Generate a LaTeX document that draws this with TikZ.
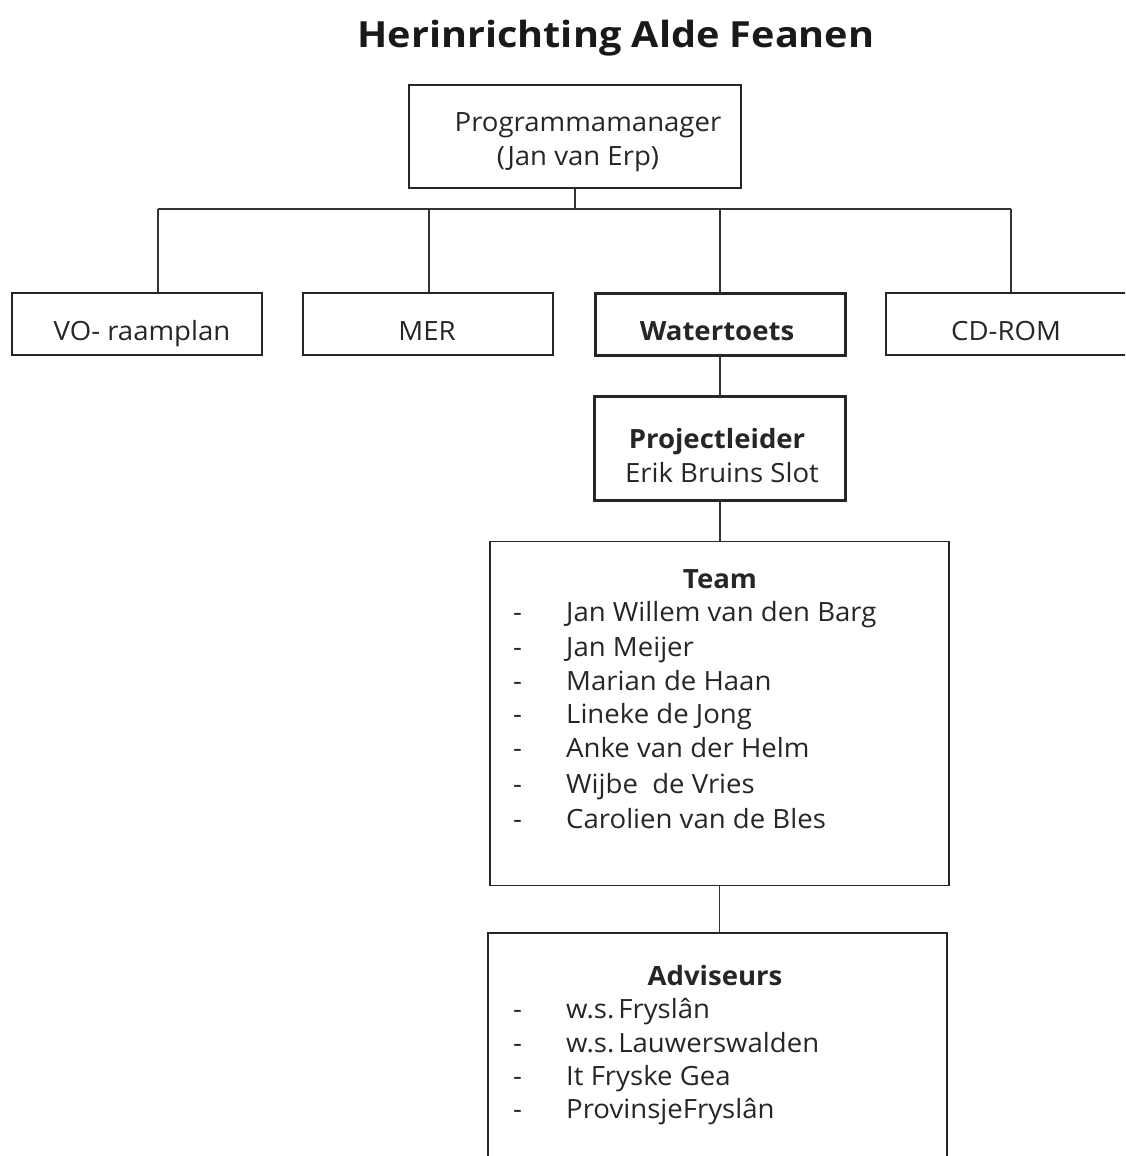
\documentclass[tikz,border=0pt]{standalone}
\usepackage{fontspec}
\setmainfont{Open Sans}[FakeStretch=1.04]
\newfontfamily\titlefont{Open Sans}[FakeStretch=1.1]
\begin{document}
\begin{tikzpicture}[x=1pt,y=-1pt,
  box/.style={draw=black!85, line width=1.6pt, inner sep=0pt},
  thickbox/.style={box, line width=3pt},
  conn/.style={draw=black!80, line width=1.5pt},
  txt/.style={inner sep=0pt, anchor=base, text=black!85, font=\fontsize{26.5}{32}\selectfont},
  btxt/.style={txt, font=\fontsize{26.5}{32}\selectfont\bfseries},
  itm/.style={txt, anchor=base west},
  ttl/.style={inner sep=0pt, anchor=base, text=black!90, font=\titlefont\fontsize{36}{42}\selectfont\bfseries}]
\useasboundingbox (0,0) rectangle (1125,1156);
\clip (0,0) rectangle (1125,1156);

\node[ttl] (title) at (616,48) {Herinrichting Alde Feanen};

% boxes
\node[box, minimum width=332pt, minimum height=103pt] (pm) at (575,136.5) {};
\node[box, minimum width=250pt, minimum height=62pt] (vo) at (137,324) {};
\node[box, minimum width=250pt, minimum height=62pt] (mer) at (428,324) {};
\node[thickbox, minimum width=250pt, minimum height=62pt] (wt) at (720,324) {};
\node[box, minimum width=250pt, minimum height=62pt] (cd) at (1011,324) {};
\node[thickbox, minimum width=251pt, minimum height=104pt] (pl) at (720,448) {};
\node[box, minimum width=459pt, minimum height=344pt] (team) at (719.5,713.5) {};
\node[box, minimum width=459pt, minimum height=300pt] (adv) at (717.5,1083) {};

% box texts
\node[txt] (pmt1) at (588,131) {Programmamanager};
\node[txt] (pmt2) at (578,165) {(Jan van Erp)};
\node[txt] (vot) at (142,340) {VO- raamplan};
\node[txt] (mert) at (427,340) {MER};
\node[btxt] (wtt) at (717,340) {Watertoets};
\node[txt] (cdt) at (1006,340) {CD-ROM};
\node[btxt] (plt1) at (717,448) {Projectleider};
\node[txt] (plt2) at (722,482) {Erik Bruins Slot};

\node[btxt] (teamt) at (720,588) {Team};
\foreach \n/\yy/\name in {1/621/Jan Willem van den Barg, 2/656/Jan Meijer, 3/690/Marian de Haan, 4/723/Lineke de Jong, 5/757/Anke van der Helm, 6/793/Wijbe\ \ de Vries, 7/828/Carolien van de Bles}{
  \node[itm] (td\n) at (513,\yy) {-};
  \node[itm] (tn\n) at (566,\yy) {\name};
}

\node[btxt] (advt) at (715,985) {Adviseurs};
\foreach \n/\yy/\name in {1/1018/w.s.\hspace{0.15em}Fryslân, 2/1052/w.s.\hspace{0.15em}Lauwerswalden, 3/1085/It Fryske Gea, 4/1118/ProvinsjeFryslân}{
  \node[itm] (ad\n) at (513,\yy) {-};
  \node[itm] (an\n) at (566,\yy) {\name};
}

% connectors
\coordinate (bus) at (0,209);
\coordinate (voup) at ([xshift=21pt]vo.north);
\draw[conn] (pm.south) -- (pm.south |- bus);
\draw[conn] (voup |- bus) -- (cd.north |- bus);
\draw[conn] (voup) -- (voup |- bus);
\draw[conn] ([xshift=1pt]mer.north) -- ([xshift=1pt]mer.north |- bus);
\draw[conn] (wt.north) -- (wt.north |- bus);
\draw[conn] (cd.north) -- (cd.north |- bus);
\draw[conn] (wt.south) -- (pl.north);
\draw[conn] (pl.south) -- (pl.south |- team.north);
\draw[conn] (team.south) -- (team.south |- adv.north);
\end{tikzpicture}
\end{document}
